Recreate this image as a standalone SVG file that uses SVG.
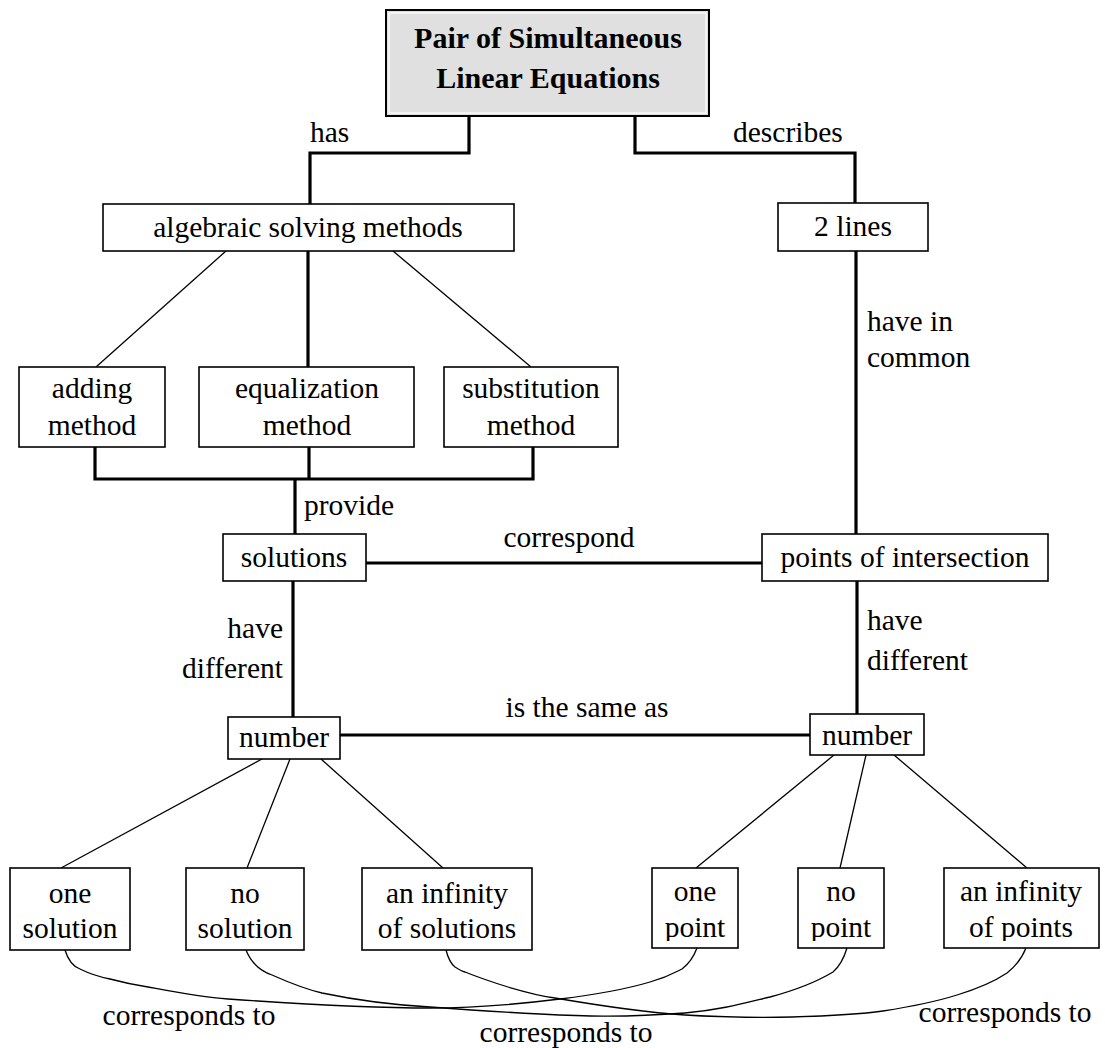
<svg xmlns="http://www.w3.org/2000/svg" width="1105" height="1048" viewBox="0 0 1105 1048">
<style>
  .box { fill: #ffffff; stroke: #000; stroke-width: 1.6; }
  .t { font-family: "Liberation Serif", "Times New Roman", serif; font-size: 29.5px; fill: #000; }
  .c { text-anchor: middle; }
  .r { text-anchor: end; }
  .title { font-family: "Liberation Serif", "Times New Roman", serif; font-size: 30px; font-weight: bold; text-anchor: middle; fill: #000; }
  .thick { fill: none; stroke: #000; stroke-width: 3.2; }
  .thin { fill: none; stroke: #000; stroke-width: 1.3; }
</style>
<defs>
  <clipPath id="cut-point" clipPathUnits="userSpaceOnUse">
    <rect x="0" y="860" width="1105" height="81"/>
  </clipPath>
</defs>
<rect width="1105" height="1048" fill="#ffffff"/>

<g id="connectors">
  <path class="thick" d="M469,116 V153 H310 V204"/>
  <path class="thick" d="M635,116 V153 H855 V203"/>
  <path class="thin" d="M226,251 L96,367"/>
  <path class="thick" d="M308,251 V367"/>
  <path class="thin" d="M393,251 L531,367"/>
  <path class="thick" d="M95,447 V479 H533 V447"/>
  <path class="thick" d="M309,447 V479"/>
  <path class="thick" d="M295,479 V534"/>
  <path class="thick" d="M856,251 V534"/>
  <path class="thick" d="M366,563 H762"/>
  <path class="thick" d="M293,581 V717"/>
  <path class="thick" d="M857,581 V714"/>
  <path class="thick" d="M340,735 H810"/>
  <path class="thin" d="M262,759 L61,868"/>
  <path class="thin" d="M290,759 L247,868"/>
  <path class="thin" d="M321,759 L443,868"/>
  <path class="thin" d="M834,755 L696,868"/>
  <path class="thin" d="M866,755 L840,868"/>
  <path class="thin" d="M894,755 L1027,868"/>
  <path class="thin" d="M65,950 C68,960 72,966 80,969 C92,975 100,977 110,979 C125,983 135,985 148,987 C180,993 200,997 228,999 C300,1004 370,1008 430,1008 C480,1008 520,1004 560,999 C600,994 630,988 650,982 C668,977 676,972 682,969 C690,963 694,956 697,948"/>
  <path class="thin" d="M246,950 C250,960 258,970 272,975 C290,983 305,989 322,993 C360,1001 395,1005 430,1007 C470,1010 500,1012 540,1014 C580,1016 620,1018 685,1013 C720,1010 745,1003 770,997 C800,989 818,981 833,972 C840,966 844,958 847,948"/>
  <path class="thin" d="M446,950 C448,958 450,963 455,967 C458,969 461,971 465,972 C480,978 495,983 508,987 C525,992 540,996 555,998 C590,1004 640,1012 685,1015 C720,1017 760,1018 792,1017 C825,1016 855,1015 883,1011 C915,1006 938,1001 957,995 C980,988 995,981 1007,973 C1016,966 1022,958 1026,948"/>
  <text class="t" x="310" y="142">has</text>
  <text class="t" x="733" y="142">describes</text>
  <text class="t" x="867" y="331">have in</text>
  <text class="t" x="867" y="367">common</text>
  <text class="t" x="304" y="515">provide</text>
  <text class="t c" x="569" y="547">correspond</text>
  <text class="t r" x="283" y="638">have</text>
  <text class="t r" x="283" y="678">different</text>
  <text class="t" x="867" y="630">have</text>
  <text class="t" x="867" y="670">different</text>
  <text class="t c" x="587" y="717">is the same as</text>
  <text class="t c" x="189" y="1025">corresponds to</text>
  <text class="t c" x="566" y="1042">corresponds to</text>
  <text class="t c" x="1005" y="1022">corresponds to</text>
</g>

<g id="n-title">
  <rect x="386" y="10" width="323" height="106" fill="#e0e0e0" stroke="#000" stroke-width="2"/>
  <rect x="389" y="13" width="317" height="100" fill="none" stroke="#ffffff" stroke-width="1.2"/>
  <text class="title" x="548" y="48">Pair of Simultaneous</text>
  <text class="title" x="548" y="88">Linear Equations</text>
</g>
<g id="n-algebraic">
  <rect class="box" x="103" y="204" width="411" height="47"/>
  <text class="t c" x="308" y="237">algebraic solving methods</text>
</g>
<g id="n-2lines">
  <rect class="box" x="778" y="203" width="150" height="48"/>
  <text class="t c" x="853" y="236">2 lines</text>
</g>
<g id="n-adding">
  <rect class="box" x="19" y="367" width="146" height="80"/>
  <text class="t c" x="92" y="398">adding</text>
  <text class="t c" x="92" y="435">method</text>
</g>
<g id="n-equalization">
  <rect class="box" x="199" y="367" width="215" height="80"/>
  <text class="t c" x="307" y="398">equalization</text>
  <text class="t c" x="307" y="435">method</text>
</g>
<g id="n-substitution">
  <rect class="box" x="444" y="367" width="174" height="80"/>
  <text class="t c" x="531" y="398">substitution</text>
  <text class="t c" x="531" y="435">method</text>
</g>
<g id="n-solutions">
  <rect class="box" x="223" y="534" width="143" height="47"/>
  <text class="t c" x="294" y="567">solutions</text>
</g>
<g id="n-points">
  <rect class="box" x="762" y="534" width="286" height="47"/>
  <text class="t c" x="905" y="567">points of intersection</text>
</g>
<g id="n-number-left">
  <rect class="box" x="228" y="717" width="112" height="42"/>
  <text class="t c" x="284" y="747">number</text>
</g>
<g id="n-number-right">
  <rect class="box" x="810" y="714" width="114" height="41"/>
  <text class="t c" x="867" y="745">number</text>
</g>
<g id="n-one-solution">
  <rect class="box" x="10" y="868" width="120" height="82"/>
  <text class="t c" x="70" y="903">one</text>
  <text class="t c" x="70" y="938">solution</text>
</g>
<g id="n-no-solution">
  <rect class="box" x="186" y="868" width="118" height="82"/>
  <text class="t c" x="245" y="903">no</text>
  <text class="t c" x="245" y="938">solution</text>
</g>
<g id="n-inf-solutions">
  <rect class="box" x="362" y="868" width="170" height="82"/>
  <text class="t c" x="447" y="903">an infinity</text>
  <text class="t c" x="447" y="938">of solutions</text>
</g>
<g id="n-one-point">
  <rect class="box" x="652" y="868" width="86" height="80"/>
  <text class="t c" x="695" y="901">one</text>
  <text class="t c" x="695" y="937" clip-path="url(#cut-point)">point</text>
</g>
<g id="n-no-point">
  <rect class="box" x="798" y="868" width="86" height="80"/>
  <text class="t c" x="841" y="901">no</text>
  <text class="t c" x="841" y="937" clip-path="url(#cut-point)">point</text>
</g>
<g id="n-inf-points">
  <rect class="box" x="944" y="868" width="155" height="80"/>
  <text class="t c" x="1021" y="901">an infinity</text>
  <text class="t c" x="1021" y="937" clip-path="url(#cut-point)">of points</text>
</g>
</svg>
